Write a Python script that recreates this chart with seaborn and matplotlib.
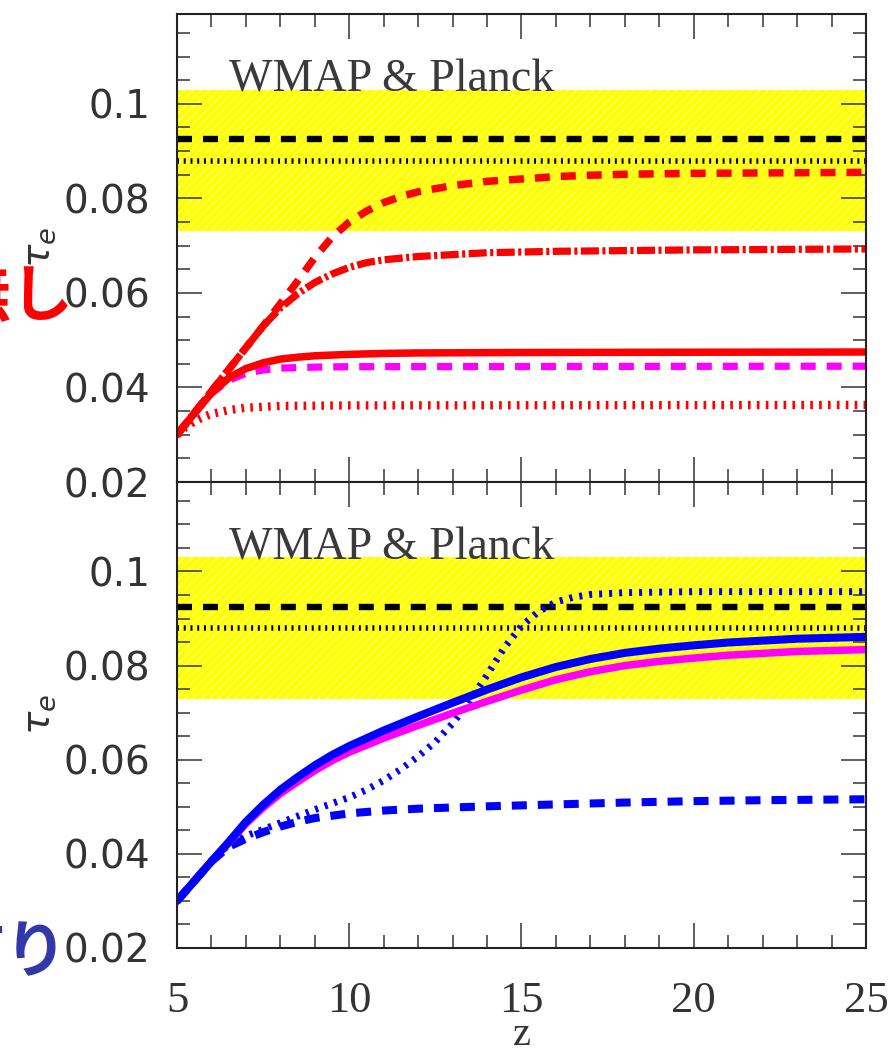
import matplotlib
matplotlib.use("Agg")
import matplotlib.pyplot as plt
import numpy as np
import pandas as pd
import seaborn as sns
from matplotlib.ticker import MultipleLocator, FixedLocator, FixedFormatter

# Electron-scattering optical depth tau_e against redshift z

# ---- top panel: without ----
z_top_dash = [5, 6, 7, 7.5, 8, 8.5, 9, 9.5, 10, 10.5, 11, 11.5, 12, 13, 14, 15, 16, 17, 18, 20, 25]
tau_top_dash = [0.030, 0.0392, 0.0484, 0.0530, 0.0577, 0.0625, 0.0675, 0.0718, 0.0750,
                0.0773, 0.0791, 0.0804, 0.0814, 0.0827, 0.0836, 0.0841, 0.0846, 0.0849,
                0.0851, 0.0853, 0.0855]

z_top_dashdot = [5, 6, 7, 7.5, 8, 8.5, 9, 9.5, 10, 10.5, 11, 12, 13, 14, 16, 20, 25]
tau_top_dashdot = [0.030, 0.0392, 0.0484, 0.0530, 0.0568, 0.0598, 0.0622, 0.0640, 0.0654,
                   0.0664, 0.0670, 0.0677, 0.0681, 0.0685, 0.0688, 0.0691, 0.0693]

z_top_solid = [5, 5.5, 6, 6.5, 7, 7.5, 8, 8.5, 9, 10, 11, 12, 15, 25]
tau_top_solid = [0.030, 0.0345, 0.0388, 0.0420, 0.0440, 0.0452, 0.0460, 0.0464, 0.0467,
                 0.0470, 0.0472, 0.0473, 0.0474, 0.0475]

z_top_magenta = [5, 6, 6.5, 7, 7.5, 8, 9, 10, 25]
tau_top_magenta = [0.030, 0.0388, 0.0415, 0.0430, 0.0437, 0.0441, 0.0443, 0.0444, 0.0445]

z_top_dot = [5, 5.25, 5.5, 5.75, 6, 6.5, 7, 8, 10, 25]
tau_top_dot = [0.030, 0.0316, 0.0328, 0.0337, 0.0344, 0.0352, 0.0357, 0.0361, 0.0362, 0.0363]

# ---- bottom panel: with ----
z_bot = [5, 5.5, 6, 6.5, 7, 7.5, 8, 8.5, 9, 9.5, 10, 11, 12, 13, 14, 15, 16, 17, 18, 19,
         20, 21, 22, 23, 24, 25]
tau_bot_blue = [0.0300, 0.0342, 0.0384, 0.0425, 0.0468, 0.0504, 0.0536, 0.0563, 0.0588,
                0.0610, 0.0629, 0.0662, 0.0692, 0.0721, 0.0749, 0.0775, 0.0797, 0.0814,
                0.0827, 0.0836, 0.0843, 0.0849, 0.0853, 0.0857, 0.0859, 0.0861]
tau_bot_magenta = [0.0300, 0.0342, 0.0384, 0.0423, 0.0464, 0.0498, 0.0528, 0.0553, 0.0577,
                   0.0598, 0.0616, 0.0646, 0.0673, 0.0699, 0.0724, 0.0748, 0.0770, 0.0787,
                   0.0800, 0.0809, 0.0816, 0.0822, 0.0826, 0.0830, 0.0832, 0.0834]

z_bot_dot = [5, 5.5, 6, 6.5, 7, 7.5, 8, 8.5, 9, 9.5, 10, 10.5, 11, 11.5, 12, 12.5, 13,
             13.5, 14, 14.5, 15, 15.5, 16, 16.5, 17, 18, 20, 25]
tau_bot_dot = [0.0300, 0.0342, 0.0384, 0.0420, 0.0438, 0.0452, 0.0466, 0.0480, 0.0494,
               0.0507, 0.0520, 0.0536, 0.0556, 0.0580, 0.0607, 0.0638, 0.0677, 0.0725,
               0.0780, 0.0838, 0.0884, 0.0915, 0.0935, 0.0945, 0.0951, 0.0955, 0.0957,
               0.0957]

z_bot_dash = [5, 5.5, 6, 6.5, 7, 7.5, 8, 8.5, 9, 10, 11, 12, 14, 16, 18, 20, 22, 25]
tau_bot_dash = [0.0300, 0.0342, 0.0384, 0.0415, 0.0432, 0.0446, 0.0458, 0.0468, 0.0476,
                0.0486, 0.0492, 0.0496, 0.0501, 0.0505, 0.0509, 0.0512, 0.0514, 0.0516]

# observational constraints
tau_obs_mid = 0.088
tau_obs_err = 0.015
tau_wmap = 0.0925
obs_label = "WMAP & Planck"

y_ticks = [0.02, 0.04, 0.06, 0.08, 0.1]
y_tick_labels = ["0.02", "0.04", "0.06", "0.08", "0.1"]
x_ticks = [5, 10, 15, 20, 25]
x_tick_labels = ["5", "10", "15", "20", "25"]

label_without = "無し"
label_with = "有り"

sns.set_style("ticks")
plt.rcParams["font.family"] = ["DejaVu Sans"]
plt.rcParams["lines.scale_dashes"] = False
plt.rcParams["hatch.linewidth"] = 0.6
plt.rcParams["mathtext.fontset"] = "dejavusans"

RED = "#ff0000"
MAG = "#ff00ff"
BLUE = "#0000ff"
YEL = "#ffff00"
INK = "#333333"

DASH = (0, (10.8, 7.9))
DASHDOT = (0, (13.0, 2.5, 2.2, 2.5))
RDOT = (0, (1.9, 4.5))
BDOT = (0, (2.2, 5.0))
KDOT = (0, (1.45, 3.4))

W, H = 895, 1055
fig = plt.figure(figsize=(W / 100, H / 100), dpi=100)
left, right = 177 / W, 866 / W
ax_top = fig.add_axes([left, 1 - 482 / H, right - left, (482 - 14) / H])
ax_bot = fig.add_axes([left, 1 - 948 / H, right - left, (948 - 482) / H])


def curve(ax, z, tau, color, lw, ls):
    df = pd.DataFrame({"z": z, "tau": tau})
    sns.lineplot(data=df, x="z", y="tau", ax=ax, color=color, lw=lw, linestyle=ls,
                 estimator=None, sort=False, errorbar=None, legend=False)


for ax in (ax_top, ax_bot):
    ax.axhspan(tau_obs_mid - tau_obs_err, tau_obs_mid + tau_obs_err, facecolor=YEL,
               edgecolor="#ffffa8", hatch="////", lw=0, zorder=0)
    ax.axhline(tau_wmap, color="black", lw=4.6, linestyle=DASH, zorder=2)
    ax.axhline(tau_obs_mid, color="black", lw=4.0, linestyle=KDOT, zorder=2)
    ax.text(6.5, 0.1049, obs_label, fontsize=33, family="Liberation Serif",
            color="#3a3a3a", va="center", ha="left")

curve(ax_top, z_top_dot, tau_top_dot, RED, 6.0, RDOT)
curve(ax_top, z_top_magenta, tau_top_magenta, MAG, 5.2, DASH)
curve(ax_top, z_top_solid, tau_top_solid, RED, 5.4, "-")
curve(ax_top, z_top_dashdot, tau_top_dashdot, RED, 5.2, DASHDOT)
curve(ax_top, z_top_dash, tau_top_dash, RED, 5.4, DASH)

curve(ax_bot, z_bot_dash, tau_bot_dash, BLUE, 5.8, DASH)
curve(ax_bot, z_bot_dot, tau_bot_dot, BLUE, 5.0, BDOT)
curve(ax_bot, z_bot, tau_bot_magenta, MAG, 5.4, "-")
curve(ax_bot, z_bot, tau_bot_blue, BLUE, 5.8, "-")

for ax in (ax_top, ax_bot):
    ax.set_xlim(5, 25)
    ax.set_ylim(0.02, 0.119)
    ax.xaxis.set_major_locator(FixedLocator(x_ticks))
    ax.xaxis.set_minor_locator(MultipleLocator(1))
    ax.yaxis.set_major_locator(FixedLocator(y_ticks))
    ax.yaxis.set_major_formatter(FixedFormatter(y_tick_labels))
    ax.yaxis.set_minor_locator(MultipleLocator(0.005))
    ax.tick_params(which="both", direction="in", top=True, right=True, color=INK)
    ax.tick_params(which="major", length=18, width=1.1)
    ax.tick_params(which="minor", length=9.5, width=1.1)
    ax.tick_params(axis="y", which="major", pad=19, labelsize=28, labelcolor=INK)
    for sp in ax.spines.values():
        sp.set_linewidth(1.5)
        sp.set_color("#222222")
    ax.set_ylabel(r"$\tau_e$", fontsize=28, color=INK, labelpad=4)
    ax.set_xlabel("")

ax_top.tick_params(axis="x", labelbottom=False)
ax_bot.xaxis.set_major_formatter(FixedFormatter(x_tick_labels))
ax_bot.tick_params(axis="x", which="major", pad=24, labelsize=32, labelcolor=INK)
for lab in ax_bot.get_xticklabels():
    lab.set_family("Liberation Serif")
ax_bot.set_xlabel("z", fontsize=29, family="Liberation Serif", color=INK)
ax_bot.xaxis.set_label_coords(0.5, -0.148)

fig.text(73 / W, 1 - 298 / H, label_without, color=RED, fontsize=45, weight="bold",
         family=["Noto Sans CJK JP", "DejaVu Sans"], ha="right", va="center")
fig.text(67 / W, 1 - 953 / H, label_with, color="#3338a8", fontsize=45, weight="bold",
         family=["Noto Sans CJK JP", "DejaVu Sans"], ha="right", va="center")

fig.savefig("out.png", dpi=100, facecolor="white")
